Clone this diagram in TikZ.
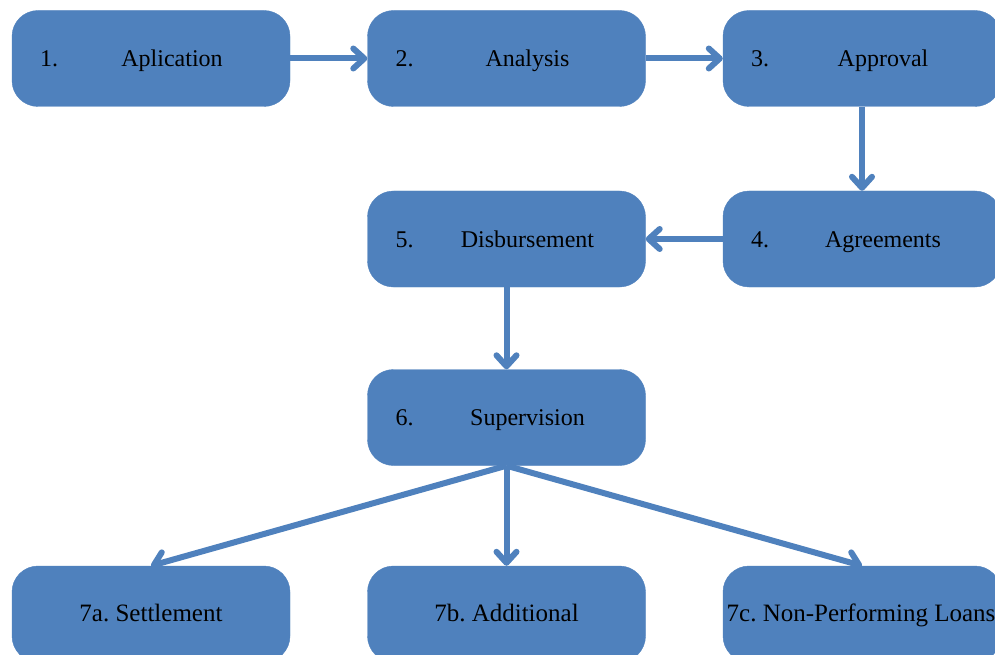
\documentclass[tikz,border=0pt]{standalone}
\usepackage{fontspec}
\setmainfont{Liberation Serif}
\usetikzlibrary{arrows.meta}
\definecolor{boxblue}{HTML}{4F81BD}
\tikzset{
  box/.style={fill=boxblue, draw=boxblue, rounded corners=26pt, minimum width=278pt, minimum height=96pt, inner sep=0pt},
  num/.style={anchor=base west, inner sep=0pt, font=\fontsize{24pt}{28pt}\selectfont},
  lbl/.style={anchor=base, inner sep=0pt, font=\fontsize{24pt}{28pt}\selectfont},
  lblb/.style={anchor=base, inner sep=0pt, font=\fontsize{25pt}{28pt}\selectfont},
  conn/.style={draw=boxblue, line width=6pt, -{Straight Barb[length=11pt,width=20pt,line cap=round,line join=round]}}
}
\begin{document}
\frenchspacing
\begin{tikzpicture}[x=1pt,y=-1pt]
\useasboundingbox (0,0) rectangle (995,655);
\clip (0,0) rectangle (995,655);
\fill[white] (0,0) rectangle (995,655);
% boxes
\node[box] (b1) at (151,58.5) {};
\node[box] (b2) at (506.5,58.5) {};
\node[box] (b3) at (862,58.5) {};
\node[box] (b4) at (862,239) {};
\node[box] (b5) at (506.5,239) {};
\node[box] (b6) at (506.5,417.5) {};
\node[box] (b7a) at (151,614) {};
\node[box] (b7b) at (506.5,614) {};
\node[box] (b7c) at (862,614) {};
% texts
\node[num] (n1) at ([shift={(28,8)}]b1.west) {1.};
\node[lbl] (t1) at ([shift={(21,8)}]b1.center) {Aplication};
\node[num] (n2) at ([shift={(28,8)}]b2.west) {2.};
\node[lbl] (t2) at ([shift={(21,8)}]b2.center) {Analysis};
\node[num] (n3) at ([shift={(28,8)}]b3.west) {3.};
\node[lbl] (t3) at ([shift={(21,8)}]b3.center) {Approval};
\node[num] (n4) at ([shift={(28,8)}]b4.west) {4.};
\node[lbl] (t4) at ([shift={(21,8)}]b4.center) {Agreements};
\node[num] (n5) at ([shift={(28,8)}]b5.west) {5.};
\node[lbl] (t5) at ([shift={(21,8)}]b5.center) {Disbursement};
\node[num] (n6) at ([shift={(28,8)}]b6.west) {6.};
\node[lbl] (t6) at ([shift={(21,8)}]b6.center) {Supervision};
\node[lblb] (t7a) at ([shift={(0,7)}]b7a.center) {7a. Settlement};
\node[lblb] (t7b) at ([shift={(0,7)}]b7b.center) {7b. Additional};
\node[lblb] (t7c) at ([shift={(-1,7)}]b7c.center) {7c. Non-Performing Loans};
% connectors
\draw[conn] (b1.east) -- (b2.west);
\draw[conn] (b2.east) -- (b3.west);
\draw[conn] (b3.south) -- (b4.north);
\draw[conn] (b4.west) -- (b5.east);
\draw[conn] (b5.south) -- (b6.north);
\draw[conn] (b6.south) -- (b7a.north);
\draw[conn] (b6.south) -- (b7b.north);
\draw[conn] (b6.south) -- (b7c.north);
\end{tikzpicture}
\end{document}
